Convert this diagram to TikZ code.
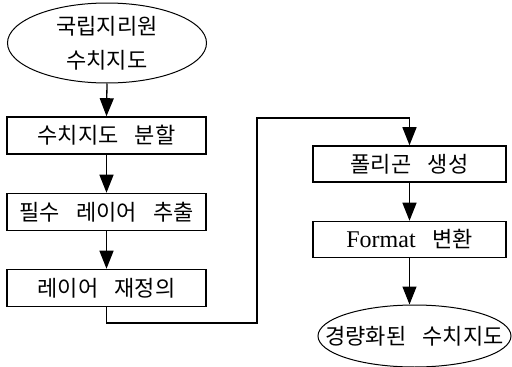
\documentclass[tikz,border=0pt]{standalone}
\usepackage{fontspec}
\setmainfont{Liberation Serif}
\newfontfamily\kr{Noto Sans CJK KR}
\usetikzlibrary{shapes.geometric,arrows.meta}
\newcommand{\gap}{\hspace{0.75em}}
\begin{document}
\begin{tikzpicture}[x=1pt,y=-1pt,
  txt/.style={font=\kr\fontsize{22}{34}\selectfont},
  box/.style={txt,draw,line width=1.6pt,minimum width=199pt,minimum height=37pt,inner sep=0pt},
  rbox/.style={box,minimum width=193pt,minimum height=36pt},
  oval/.style={draw,ellipse,line width=1pt,inner sep=0pt},
  arr/.style={line width=1.3pt,-{Triangle[length=18pt,width=14pt]}}]
\useasboundingbox (0,0) rectangle (512,367);
\node[oval,minimum width=199pt,minimum height=80pt,
  label={[txt,align=center]center:국립지리원\\수치지도}] (e1) at (107,43) {};
\node[box] (b1) at (106.5,135.5) {수치지도\gap 분할};
\node[box] (b2) at (106.5,212) {필수\gap 레이어\gap 추출};
\node[box] (b3) at (106.5,288) {레이어\gap 재정의};
\node[rbox] (b4) at (409.5,164) {폴리곤\gap 생성};
\node[rbox] (b5) at (409.5,239.5) {{\rmfamily\fontsize{24}{26}\selectfont Format}\gap 변환};
\node[oval,minimum width=193pt,minimum height=62pt,
  label={[txt]center:경량화된\gap 수치지도}] (e2) at (414.5,336) {};
\coordinate (c1) at (257,323);
\coordinate (c2) at (257,118);
\draw[arr] (e1.south) -- (b1.north);
\draw[arr] (b1.south) -- (b2.north);
\draw[arr] (b2.south) -- (b3.north);
\draw[arr] (b3.south) |- (c1) -- (c2) -| (b4.north);
\draw[arr] (b4.south) -- (b5.north);
\draw[arr] (b5.south) -- (e2.north -| b5.south);
\end{tikzpicture}
\end{document}
